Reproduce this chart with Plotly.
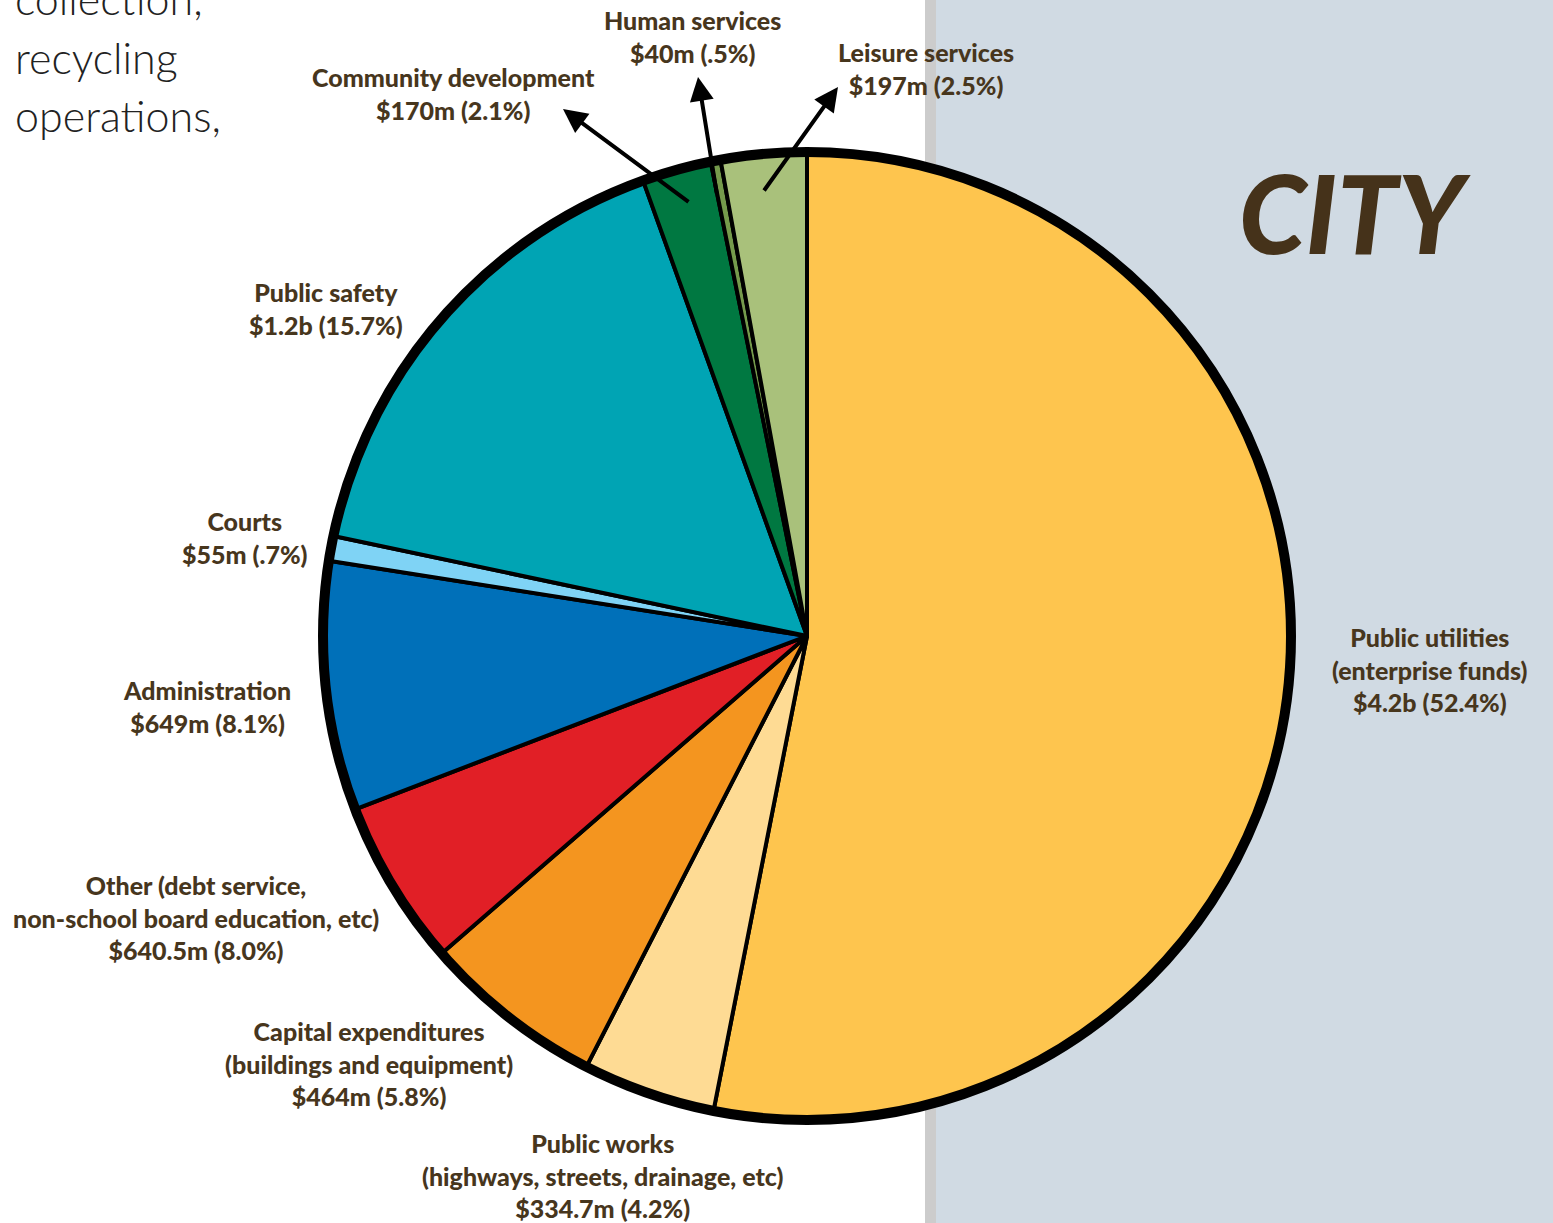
import plotly.graph_objects as go

W, H = 1553, 1223

categories = ["Public utilities", "Public works", "Capital expenditures", "Other",
              "Administration", "Courts", "Public safety", "Community development",
              "Human services", "Leisure services"]
# slice shares (%) as drawn in the picture
values = [53.1, 4.44, 6.08, 5.56, 8.31, 0.83, 16.19, 2.31, 0.33, 2.86]
colors = ["#fec54e", "#fedb94", "#f4951f", "#e11f26", "#0070b9", "#7fd3f5",
          "#00a4b4", "#007841", "#759a4c", "#a9c17b"]
label_texts = [
    "Public utilities<br>(enterprise funds)<br>$4.2b (52.4%)",
    "Public works<br>(highways, streets, drainage, etc)<br>$334.7m (4.2%)",
    "Capital expenditures<br>(buildings and equipment)<br>$464m (5.8%)",
    "Other (debt service,<br>non-school board education, etc)<br>$640.5m (8.0%)",
    "Administration<br>$649m (8.1%)",
    "Courts<br>$55m (.7%)",
    "Public safety<br>$1.2b (15.7%)",
    "Community development<br>$170m (2.1%)",
    "Human services<br>$40m (.5%)",
    "Leisure services<br>$197m (2.5%)",
]
# label centres in pixels
label_pos = [(1430, 669), (602, 1175), (369, 1063), (196, 917), (207, 706),
             (245, 537), (326, 309), (453, 93), (692, 37), (926, 69)]
# arrows: (head_x, head_y, tail_x, tail_y) for small slices
arrows = [(563, 109, 690, 203), (698, 77, 717, 195), (838, 87, 763, 192)]

cx, cy, R = 807, 636, 484
TXT = "#47361d"


def px(x):
    return x / W


def py(y):
    return 1 - y / H


fig = go.Figure()
fig.add_trace(go.Pie(
    labels=categories, values=values, sort=False, direction="clockwise", rotation=0,
    marker=dict(colors=colors, line=dict(color="black", width=4)),
    textinfo="none", hoverinfo="label", showlegend=False,
    domain=dict(x=[px(cx - R), px(cx + R)], y=[py(cy + R), py(cy - R)]),
))

shapes = [
    dict(type="rect", xref="paper", yref="paper", x0=px(925), x1=px(936), y0=0, y1=1,
         fillcolor="#cccccc", line=dict(width=0), layer="below"),
    dict(type="rect", xref="paper", yref="paper", x0=px(936), x1=1, y0=0, y1=1,
         fillcolor="#d0dae3", line=dict(width=0), layer="below"),
    dict(type="circle", xref="paper", yref="paper", x0=px(cx - R), x1=px(cx + R),
         y0=py(cy + R), y1=py(cy - R), line=dict(color="black", width=10), layer="above"),
]

annotations = []
for t, (x, y) in zip(label_texts, label_pos):
    annotations.append(dict(
        x=px(x), y=py(y), xref="paper", yref="paper", text=t, showarrow=False,
        xanchor="center", yanchor="middle", align="center",
        font=dict(family="Lato", size=25, color=TXT, weight=900)))

for hx, hy, tx, ty in arrows:
    annotations.append(dict(
        x=px(hx), y=py(hy), xref="paper", yref="paper", text="", showarrow=True,
        ax=tx - hx, ay=ty - hy, arrowhead=2, arrowsize=1.2, arrowwidth=4,
        arrowcolor="black", standoff=0, startstandoff=0))

annotations.append(dict(
    x=px(1355), y=py(212), xref="paper", yref="paper", text="CITY", showarrow=False,
    xanchor="center", yanchor="middle",
    font=dict(family="Lato", size=108, color="#45321a", weight=900, style="italic")))

left_lines = ["collection,", "recycling", "operations,"]
left_y = [-2, 57, 115]
for t, y in zip(left_lines, left_y):
    annotations.append(dict(
        x=px(13), y=py(y), xref="paper", yref="paper", text=t, showarrow=False,
        xanchor="left", yanchor="middle",
        font=dict(family="Lato", size=43, color="#222222", weight=300)))

fig.update_layout(
    width=W, height=H, margin=dict(l=0, r=0, t=0, b=0),
    paper_bgcolor="white", plot_bgcolor="white",
    shapes=shapes, annotations=annotations,
)

fig.write_html("out.html", config={"displayModeBar": False},
               post_script="document.body.style.margin='0';document.body.style.overflow='hidden';")
